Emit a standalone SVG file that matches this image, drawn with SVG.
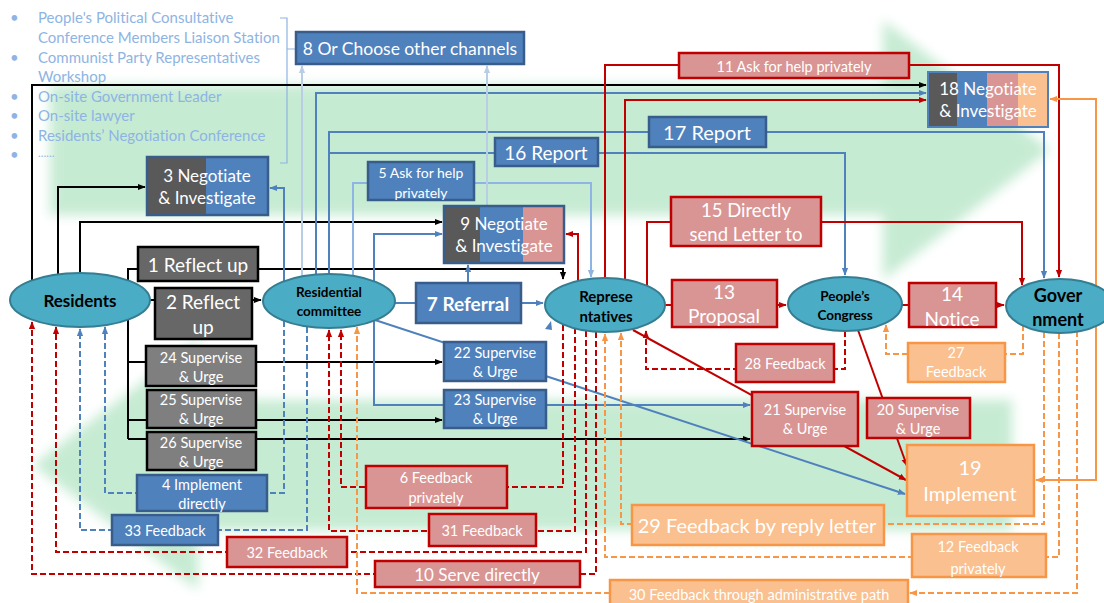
<svg xmlns="http://www.w3.org/2000/svg" width="1104" height="603" viewBox="0 0 1104 603">
  <defs>
    <filter id="soft" x="-10%" y="-10%" width="120%" height="120%">
      <feGaussianBlur stdDeviation="6"/>
    </filter>
    <marker id="a-k" viewBox="0 0 10 10" refX="9" refY="5" markerWidth="8" markerHeight="8" markerUnits="userSpaceOnUse" orient="auto"><path d="M0,1 L10,5 L0,9 z" fill="#000"/></marker>
    <marker id="a-b" viewBox="0 0 10 10" refX="9" refY="5" markerWidth="8" markerHeight="8" markerUnits="userSpaceOnUse" orient="auto"><path d="M0,1 L10,5 L0,9 z" fill="#4f81bd"/></marker>
    <marker id="a-lb" viewBox="0 0 10 10" refX="9" refY="5" markerWidth="8" markerHeight="8" markerUnits="userSpaceOnUse" orient="auto"><path d="M0,1 L10,5 L0,9 z" fill="#b9cde5"/></marker>
    <marker id="a-mb" viewBox="0 0 10 10" refX="9" refY="5" markerWidth="8" markerHeight="8" markerUnits="userSpaceOnUse" orient="auto"><path d="M0,1 L10,5 L0,9 z" fill="#8eb4e3"/></marker>
    <marker id="a-r" viewBox="0 0 10 10" refX="9" refY="5" markerWidth="8" markerHeight="8" markerUnits="userSpaceOnUse" orient="auto"><path d="M0,1 L10,5 L0,9 z" fill="#c00000"/></marker>
    <marker id="a-o" viewBox="0 0 10 10" refX="9" refY="5" markerWidth="8" markerHeight="8" markerUnits="userSpaceOnUse" orient="auto"><path d="M0,1 L10,5 L0,9 z" fill="#f79646"/></marker>
  </defs>
  <style>
    .ln { fill: none; stroke-width: 2; }
    .k { stroke: #000; marker-end: url(#a-k); }
    .b { stroke: #4f81bd; marker-end: url(#a-b); }
    .lb { stroke: #b9cde5; marker-end: url(#a-lb); }
    .mb { stroke: #8eb4e3; marker-end: url(#a-mb); }
    .r { stroke: #c00000; marker-end: url(#a-r); }
    .o { stroke: #f79646; marker-end: url(#a-o); }
    .d { stroke-dasharray: 6 3; }
    .bx-k { fill: #676767; stroke: #000; stroke-width: 2.5; }
    .bx-g { fill: #7f7f7f; stroke: #000; stroke-width: 2.5; }
    .bx-b { fill: #4f81bd; stroke: #385d8a; stroke-width: 2.5; }
    .bx-r { fill: #d99594; stroke: #c00000; stroke-width: 2.5; }
    .bx-o { fill: #fac090; stroke: #f79646; stroke-width: 2.5; }
    .ell { fill: #4bacc6; stroke: #357d91; stroke-width: 2; }
    text { font-family: Lato, "Liberation Sans", sans-serif; font-variant-ligatures: none; }
    .t { fill: #fff; text-anchor: middle; dominant-baseline: central; }
    .te { fill: #000; font-weight: bold; text-anchor: middle; dominant-baseline: central; }
    .lst { fill: #8eb4e3; font-size: 15px; }
  </style>

  <!-- background flow arrows -->
  <g id="background" filter="url(#soft)" fill="#c6ebd3">
    <polygon points="50,85 883,85 883,20 1050,150 883,280 883,215 50,215"/>
    <polygon points="33,465 198,340 198,400 1012,400 1012,530 198,530 198,590"/>
  </g>

  <!-- channel list -->
  <g id="channel-list">
    <g class="lst">
      <text x="10" y="23">•</text>
      <text x="38" y="23">People's Political Consultative</text>
      <text x="38" y="43">Conference Members Liaison Station</text>
      <text x="10" y="63">•</text>
      <text x="38" y="63">Communist Party Representatives</text>
      <text x="38" y="82">Workshop</text>
      <text x="10" y="102">•</text>
      <text x="38" y="102">On-site Government Leader</text>
      <text x="10" y="121">•</text>
      <text x="38" y="121">On-site lawyer</text>
      <text x="10" y="141">•</text>
      <text x="38" y="141">Residents’ Negotiation Conference</text>
      <text x="10" y="160">•</text>
      <text x="38" y="157" font-size="11">……</text>
    </g>
    <path d="M280,18 H287 V163 H280 M287,49 H296" fill="none" stroke="#8eb4e3" stroke-width="1.2"/>
  </g>

  <!-- connectors -->
  <g id="connectors">
    <!-- residents: solid black -->
    <path class="ln k" d="M32,281 V85 H926"/>
    <path class="ln k" d="M58,276 V187 H145"/>
    <path class="ln k" d="M80,273 V222 H442"/>
    <path class="ln k" d="M128,439 V269 H563 V279"/>
    <path class="ln k" d="M128,362 H442"/>
    <path class="ln k" d="M128,420 H442"/>
    <path class="ln k" d="M128,439 H750"/>
    <path class="ln k" d="M150,300 H261"/>

    <!-- residential committee: solid blue -->
    <path class="ln b" d="M284,282 V188 H270"/>
    <path class="ln lb" d="M302,276 V66"/>
    <path class="ln b" d="M316,275 V93 H926"/>
    <path class="ln b" d="M329,274 V132 H1044 V278"/>
    <path class="ln b" d="M329,153 H845 V275"/>
    <path class="ln mb" d="M353,276 V183 H591 V277"/>
    <path class="ln b" d="M374,300 V234 H442"/>
    <path class="ln b" d="M374,300 V405 H750"/>
    <path class="ln b" d="M375,320 L905,494"/>
    <path class="ln b" d="M395,303 H543"/>
    <path class="ln b" d="M468,283 V265"/>
    <path class="ln lb" d="M487,206 V66"/>
    <polygon points="545,329 551,321 552,330" fill="#4f81bd"/>

    <!-- representatives and congress: solid red -->
    <path class="ln r" d="M605,278 V65 H1059 V277"/>
    <path class="ln r" d="M625,280 V100 H926"/>
    <path class="ln r" d="M578,282 V234 H566"/>
    <path class="ln r" d="M647,286 V222 H1022 V285"/>
    <path class="ln r" d="M665,305 H786"/>
    <path class="ln r" d="M902,305 H1004"/>
    <path class="ln r" d="M858,330 L907,466"/>
    <path class="ln r" d="M633,330 L906,480"/>

    <!-- feedback: dashed red -->
    <path class="ln r d" d="M845,331 V369 H646 V331"/>
    <path class="ln r d" d="M563,325 V487 H341 V330"/>
    <path class="ln r d" d="M575,328 V531 H329 V330"/>
    <path class="ln r d" d="M586,331 V552 H56 V327"/>
    <path class="ln r d" d="M596,332 V574 H32 V322"/>

    <!-- feedback: dashed blue -->
    <path class="ln b d" d="M284,321 V493 H105 V327"/>
    <path class="ln b d" d="M307,327 V530 H80 V329"/>

    <!-- government feedback: dashed orange -->
    <path class="ln o d" d="M1023,325 V354 H886 V325"/>
    <path class="ln o d" d="M1044,332 V524 H621 V333"/>
    <path class="ln o d" d="M1059,333 V557 H605 V334"/>
    <path class="ln o d" d="M1077,331 V593 H910"/>
    <path class="ln o d" d="M610,593 H357 V327"/>

    <!-- government to negotiation and implementation: solid orange -->
    <path class="ln o" d="M1096,306 V99 H1050"/>
    <path class="ln o" d="M1096,306 V480 H1036"/>
  </g>

  <!-- actors -->
  <g id="residents">
    <ellipse class="ell" cx="80" cy="300" rx="70" ry="27"/>
    <text class="te" x="80" y="300" font-size="17">Residents</text>
  </g>
  <g id="residential-committee">
    <ellipse class="ell" cx="329" cy="301" rx="66" ry="27"/>
    <text class="te" x="329" y="292" font-size="13.5">Residential</text>
    <text class="te" x="329" y="311" font-size="13.5">committee</text>
  </g>
  <g id="representatives">
    <ellipse class="ell" cx="605" cy="305" rx="60" ry="27"/>
    <text class="te" x="606" y="296" font-size="15">Represe</text>
    <text class="te" x="606" y="316" font-size="15">ntatives</text>
  </g>
  <g id="peoples-congress">
    <ellipse class="ell" cx="845" cy="304" rx="57" ry="27"/>
    <text class="te" x="845" y="296" font-size="13.5">People’s</text>
    <text class="te" x="845" y="315" font-size="13.5">Congress</text>
  </g>
  <g id="government">
    <ellipse class="ell" cx="1060" cy="306" rx="54" ry="27"/>
    <text class="te" x="1058" y="295" font-size="18">Gover</text>
    <text class="te" x="1058" y="319" font-size="18">nment</text>
  </g>

  <!-- residents' steps -->
  <g id="n1">
    <rect class="bx-k" x="138" y="247" width="120" height="34"/>
    <text class="t" x="198" y="264" font-size="19">1 Reflect up</text>
  </g>
  <g id="n2">
    <rect class="bx-k" x="155" y="288" width="97" height="51"/>
    <text class="t" x="203" y="301" font-size="19">2 Reflect</text>
    <text class="t" x="203" y="326" font-size="19">up</text>
  </g>
  <g id="n24">
    <rect class="bx-g" x="146" y="346" width="110" height="40"/>
    <text class="t" x="201" y="357" font-size="14.5">24 Supervise</text>
    <text class="t" x="201" y="376" font-size="14.5">&amp; Urge</text>
  </g>
  <g id="n25">
    <rect class="bx-g" x="147" y="390" width="109" height="38"/>
    <text class="t" x="201" y="399" font-size="14.5">25 Supervise</text>
    <text class="t" x="201" y="418" font-size="14.5">&amp; Urge</text>
  </g>
  <g id="n26">
    <rect class="bx-g" x="147" y="432" width="109" height="38"/>
    <text class="t" x="201" y="442" font-size="14.5">26 Supervise</text>
    <text class="t" x="201" y="461" font-size="14.5">&amp; Urge</text>
  </g>

  <!-- negotiation boxes -->
  <g id="n3">
    <rect x="147" y="157" width="59" height="58" fill="#595959"/>
    <rect x="206" y="157" width="62" height="58" fill="#4f81bd"/>
    <rect x="147" y="157" width="121" height="58" fill="none" stroke="#385d8a" stroke-width="2.5"/>
    <text class="t" x="207" y="175" font-size="17">3 Negotiate</text>
    <text class="t" x="207" y="197" font-size="17">&amp; Investigate</text>
  </g>
  <g id="n9">
    <rect x="444" y="206" width="36" height="57" fill="#595959"/>
    <rect x="480" y="206" width="43" height="57" fill="#4f81bd"/>
    <rect x="523" y="206" width="41" height="57" fill="#d99594"/>
    <rect x="444" y="206" width="120" height="57" fill="none" stroke="#385d8a" stroke-width="2.5"/>
    <text class="t" x="504" y="223" font-size="17">9 Negotiate</text>
    <text class="t" x="504" y="245" font-size="17">&amp; Investigate</text>
  </g>
  <g id="n18">
    <rect x="928" y="72" width="29" height="55" fill="#595959"/>
    <rect x="957" y="72" width="30" height="55" fill="#4f81bd"/>
    <rect x="987" y="72" width="31" height="55" fill="#d99594"/>
    <rect x="1018" y="72" width="30" height="55" fill="#fac090"/>
    <rect x="928" y="72" width="120" height="55" fill="none" stroke="#4f81bd" stroke-width="2"/>
    <text class="t" x="988" y="88" font-size="17">18 Negotiate</text>
    <text class="t" x="988" y="110" font-size="17">&amp; Investigate</text>
  </g>

  <!-- residential committee steps -->
  <g id="n8">
    <rect class="bx-b" x="296" y="32" width="228" height="32"/>
    <text class="t" x="410" y="48" font-size="17.5">8 Or Choose other channels</text>
  </g>
  <g id="n5">
    <rect class="bx-b" x="368" y="162" width="106" height="38"/>
    <text class="t" x="421" y="172" font-size="14">5 Ask for help</text>
    <text class="t" x="421" y="192" font-size="14">privately</text>
  </g>
  <g id="n16">
    <rect class="bx-b" x="495" y="138" width="103" height="28"/>
    <text class="t" x="546" y="152" font-size="19">16 Report</text>
  </g>
  <g id="n17">
    <rect class="bx-b" x="649" y="117" width="117" height="30"/>
    <text class="t" x="707" y="132" font-size="20">17 Report</text>
  </g>
  <g id="n7">
    <rect class="bx-b" x="416" y="283" width="105" height="40"/>
    <text class="t" x="468" y="303" font-size="19" font-weight="bold">7 Referral</text>
  </g>
  <g id="n22">
    <rect class="bx-b" x="444" y="342" width="102" height="39"/>
    <text class="t" x="495" y="352" font-size="14.5">22 Supervise</text>
    <text class="t" x="495" y="371" font-size="14.5">&amp; Urge</text>
  </g>
  <g id="n23">
    <rect class="bx-b" x="444" y="390" width="102" height="38"/>
    <text class="t" x="495" y="399" font-size="14.5">23 Supervise</text>
    <text class="t" x="495" y="418" font-size="14.5">&amp; Urge</text>
  </g>
  <g id="n4">
    <rect class="bx-b" x="137" y="475" width="130" height="36"/>
    <text class="t" x="202" y="484" font-size="14.5">4 Implement</text>
    <text class="t" x="202" y="503" font-size="14.5">directly</text>
  </g>
  <g id="n33">
    <rect class="bx-b" x="112" y="515" width="106" height="30"/>
    <text class="t" x="165" y="530" font-size="14.5">33 Feedback</text>
  </g>

  <!-- representatives' steps -->
  <g id="n11">
    <rect class="bx-r" x="679" y="53" width="230" height="25"/>
    <text class="t" x="794" y="66" font-size="14.5">11 Ask for help privately</text>
  </g>
  <g id="n15">
    <rect class="bx-r" x="671" y="197" width="150" height="49"/>
    <text class="t" x="746" y="210" font-size="18.5">15 Directly</text>
    <text class="t" x="746" y="234" font-size="18.5">send Letter to</text>
  </g>
  <g id="n13">
    <rect class="bx-r" x="672" y="280" width="105" height="47"/>
    <text class="t" x="724" y="291" font-size="19">13</text>
    <text class="t" x="724" y="315" font-size="19">Proposal</text>
  </g>
  <g id="n14">
    <rect class="bx-r" x="909" y="283" width="87" height="44"/>
    <text class="t" x="952" y="293" font-size="19">14</text>
    <text class="t" x="952" y="318" font-size="19">Notice</text>
  </g>
  <g id="n28">
    <rect class="bx-r" x="736" y="344" width="98" height="38"/>
    <text class="t" x="785" y="363" font-size="14.5">28 Feedback</text>
  </g>
  <g id="n21">
    <rect class="bx-r" x="752" y="392" width="106" height="54"/>
    <text class="t" x="805" y="409" font-size="14.5">21 Supervise</text>
    <text class="t" x="805" y="428" font-size="14.5">&amp; Urge</text>
  </g>
  <g id="n20">
    <rect class="bx-r" x="867" y="398" width="103" height="40"/>
    <text class="t" x="918" y="409" font-size="14.5">20 Supervise</text>
    <text class="t" x="918" y="428" font-size="14.5">&amp; Urge</text>
  </g>
  <g id="n6">
    <rect class="bx-r" x="366" y="466" width="141" height="42"/>
    <text class="t" x="436" y="477" font-size="14.5">6 Feedback</text>
    <text class="t" x="436" y="497" font-size="14.5">privately</text>
  </g>
  <g id="n31">
    <rect class="bx-r" x="429" y="514" width="107" height="32"/>
    <text class="t" x="482" y="530" font-size="14.5">31 Feedback</text>
  </g>
  <g id="n32">
    <rect class="bx-r" x="227" y="537" width="120" height="30"/>
    <text class="t" x="287" y="552" font-size="14.5">32 Feedback</text>
  </g>
  <g id="n10">
    <rect class="bx-r" x="375" y="561" width="205" height="26"/>
    <text class="t" x="477" y="574" font-size="17">10 Serve directly</text>
  </g>

  <!-- government steps -->
  <g id="n27">
    <rect class="bx-o" x="908" y="343" width="97" height="39"/>
    <text class="t" x="956" y="352" font-size="14.5">27</text>
    <text class="t" x="956" y="371" font-size="14.5">Feedback</text>
  </g>
  <g id="n19">
    <rect class="bx-o" x="907" y="445" width="127" height="71"/>
    <text class="t" x="970" y="467" font-size="20">19</text>
    <text class="t" x="970" y="493" font-size="20">Implement</text>
  </g>
  <g id="n29">
    <rect class="bx-o" x="632" y="505" width="252" height="40"/>
    <text class="t" x="757" y="525" font-size="20">29 Feedback by reply letter</text>
  </g>
  <g id="n12">
    <rect class="bx-o" x="912" y="534" width="134" height="43"/>
    <text class="t" x="978" y="546" font-size="14.5">12 Feedback</text>
    <text class="t" x="978" y="568" font-size="14.5">privately</text>
  </g>
  <g id="n30">
    <rect class="bx-o" x="610" y="580" width="298" height="32"/>
    <text class="t" x="759" y="594" font-size="14.5">30 Feedback through administrative path</text>
  </g>
</svg>
